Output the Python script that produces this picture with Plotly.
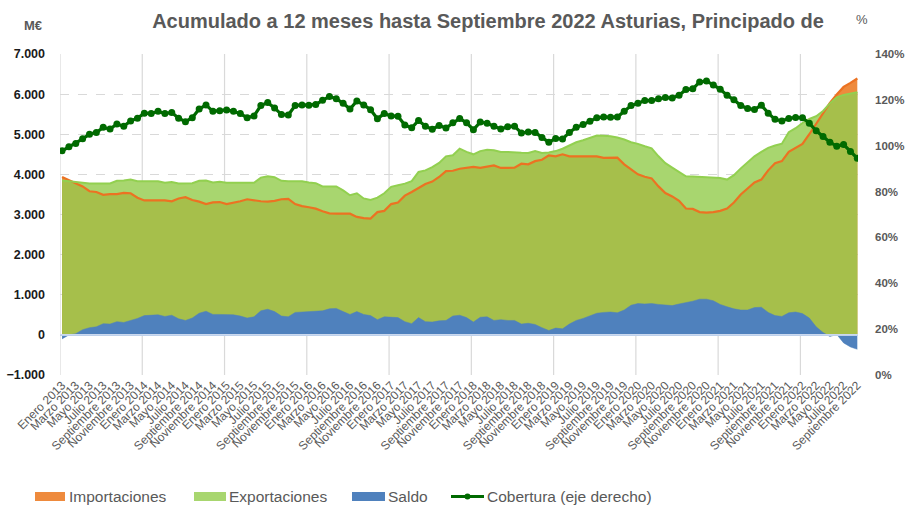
import plotly.graph_objects as go

years = list(range(2013, 2023))
month_names = ["Enero", "Febrero", "Marzo", "Abril", "Mayo", "Junio", "Julio",
               "Agosto", "Septiembre", "Octubre", "Noviembre", "Diciembre"]
months = [f"{m} {y}" for y in years for m in month_names][:117]

exportaciones = [
    3850, 3830, 3810, 3790, 3770, 3770, 3770, 3775, 3840, 3845, 3870, 3830,
    3830, 3835, 3830, 3790, 3810, 3775, 3775, 3780, 3840, 3845, 3800, 3815,
    3790, 3790, 3785, 3780, 3790, 3920, 3950, 3930, 3840, 3830, 3830, 3830,
    3800, 3780, 3700, 3700, 3700, 3600, 3480, 3530, 3400, 3360, 3420, 3530,
    3690, 3730, 3770, 3830, 4060, 4100, 4180, 4285, 4450, 4475, 4640, 4560,
    4500, 4580, 4615, 4600, 4560, 4560, 4545, 4540, 4535, 4580, 4535, 4545,
    4580, 4640, 4720, 4800, 4850, 4920, 4970, 4960, 4950, 4920, 4870, 4800,
    4760, 4700, 4650, 4450, 4280, 4170, 4060, 3950, 3945, 3940, 3935, 3925,
    3910, 3870, 3980, 4150, 4300, 4450, 4560, 4660, 4720, 4765, 5050, 5150,
    5280, 5380, 5450, 5580, 5770, 5920, 5980, 6010, 6050]

importaciones = [
    3935, 3850, 3780, 3700, 3580, 3560, 3490, 3510, 3510, 3540, 3530, 3420,
    3350, 3350, 3340, 3350, 3330, 3400, 3430, 3360, 3320, 3260, 3300, 3310,
    3260, 3290, 3330, 3380, 3350, 3330, 3320, 3340, 3380, 3390, 3260, 3210,
    3180, 3145, 3080, 3030, 3020, 3025, 3020, 2940, 2910, 2900, 3060, 3090,
    3260, 3300, 3470, 3560, 3650, 3760, 3820, 3935, 4080, 4090, 4140, 4160,
    4185, 4160, 4190, 4225, 4160, 4160, 4165, 4265, 4250, 4330, 4365, 4475,
    4450, 4500, 4450, 4450, 4450, 4450, 4450, 4410, 4420, 4415, 4250, 4120,
    4000, 3940, 3900, 3700, 3535, 3450, 3340, 3150, 3140, 3060, 3045, 3060,
    3090, 3150, 3300, 3500, 3650, 3800, 3870, 4100, 4280, 4330, 4560, 4660,
    4760, 5000, 5250, 5500, 5780, 5990, 6180, 6280, 6390]

saldo = [
    -100, 0, 30, 130, 180, 200, 280, 270, 330, 310, 360, 410,
    480, 490, 500, 460, 490, 400, 360, 420, 540, 590, 510, 510,
    500, 500, 470, 420, 450, 600, 640, 580, 470, 450, 560, 570,
    570, 580, 600, 650, 660, 580, 510, 580, 510, 480, 380, 450,
    440, 430, 330, 280, 430, 330, 320, 350, 360, 470, 490, 430,
    320, 440, 450, 360, 380, 360, 360, 270, 290, 260, 180, 110,
    170, 150, 270, 360, 410, 480, 540, 560, 570, 550, 620, 740,
    780, 770, 780, 760, 740, 730, 770, 800, 840, 890, 890, 850,
    760, 700, 650, 620, 620, 680, 690, 560, 480, 460, 550, 570,
    530, 420, 200, 60, -40, 10, -200, -300, -360]

cobertura = [
    97.8, 99.5, 101, 103, 105, 105.8, 108, 107.3, 109.5, 108.5, 110.8, 112,
    114.2, 114, 115, 114, 114.5, 112, 110.5, 112.2, 116, 117.8, 115, 115.2,
    115.6, 115, 114, 112.2, 113, 117.5, 118.8, 116.5, 113.6, 113.4, 117.5, 117.8,
    117.7, 118, 119.8, 121.5, 120.5, 118.5, 116, 119.5, 117.8, 115.7, 111.8, 114,
    113, 112.8, 109, 107.8, 111, 108.5, 107.2, 108.8, 107.7, 110, 111.9, 110,
    107, 110.3, 109.8, 108.5, 107.3, 108.3, 108.5, 105.5, 106, 105.8, 103.6, 101.5,
    103.2, 102.9, 105.8, 108, 109.2, 110.7, 112.2, 112.5, 112.4, 112.5, 115, 117.5,
    118.5, 119.7, 119.7, 120.5, 121, 120.8, 122, 124.5, 124.8, 127.8, 128.2, 126.5,
    124.6, 122, 120, 117.5, 116.2, 115.8, 117.7, 114.2, 111.5, 110.8, 111.9, 112.3,
    112.2, 109.8, 106.5, 104, 101.5, 99.8, 100.5, 97.5, 94.5]

x = list(range(len(months)))
overlap = [min(e, i) for e, i in zip(exportaciones, importaciones)]

C_ORANGE_FILL = "#EE8A3D"
C_ORANGE_LINE = "#EC7222"
C_LGREEN = "#A8D66F"
C_LGREEN_LINE = "#92D050"
C_OLIVE = "#A6BF4B"
C_BLUE = "#4F81BD"
C_COB = "#006A00"
GRAY = "#595959"
FONT = "Liberation Sans"

fig = go.Figure()
fig.add_trace(go.Scatter(x=x, y=exportaciones, mode="lines", fill="tozeroy",
                         fillcolor=C_LGREEN, line=dict(width=0, color=C_LGREEN),
                         showlegend=False, hoverinfo="skip"))
fig.add_trace(go.Scatter(x=x, y=importaciones, mode="lines", fill="tozeroy",
                         fillcolor=C_ORANGE_FILL, line=dict(width=0, color=C_ORANGE_FILL),
                         showlegend=False, hoverinfo="skip"))
fig.add_trace(go.Scatter(x=x, y=overlap, mode="lines", fill="tozeroy",
                         fillcolor=C_OLIVE, line=dict(width=0, color=C_OLIVE),
                         showlegend=False, hoverinfo="skip"))
fig.add_trace(go.Scatter(x=x, y=importaciones, mode="lines", name="Importaciones",
                         line=dict(width=2.2, color=C_ORANGE_LINE), showlegend=False))
fig.add_trace(go.Scatter(x=x, y=exportaciones, mode="lines", name="Exportaciones",
                         line=dict(width=2, color=C_LGREEN_LINE), showlegend=False))
fig.add_trace(go.Scatter(x=x, y=saldo, mode="lines", fill="tozeroy", name="Saldo",
                         fillcolor=C_BLUE, line=dict(width=0.5, color=C_BLUE),
                         showlegend=False))
fig.add_trace(go.Scatter(x=x, y=cobertura, mode="lines+markers", yaxis="y2",
                         name="Cobertura (eje derecho)",
                         line=dict(width=3.2, color=C_COB),
                         marker=dict(size=7, color=C_COB), showlegend=False))

# zero line above areas
fig.add_shape(type="line", xref="paper", x0=0, x1=1, yref="y", y0=0, y1=0,
              line=dict(color="#A9C0E4", width=2), layer="above")
fig.add_shape(type="line", xref="paper", x0=0, x1=1, yref="y", y0=0, y1=0,
              line=dict(color="#EEF3FA", width=0.8), layer="above")

# vertical yearly gridlines
for k in range(0, len(months), 12):
    fig.add_shape(type="line", xref="x", x0=k - 0.3, x1=k - 0.3, yref="paper",
                  y0=0, y1=1, line=dict(color="#D9D9D9", width=1.2), layer="below")

# manual legend
def px2paper_x(px):
    return (px - 60) / 798.0

def px2paper_y(py):
    return (375 - py) / 321.0

legend_items = [
    ("rect", 35, 65, C_ORANGE_FILL, "Importaciones", 67),
    ("rect", 194, 226, C_LGREEN, "Exportaciones", 227),
    ("rect", 352, 385, C_BLUE, "Saldo", 386),
    ("line", 451, 484, C_COB, "Cobertura (eje derecho)", 485),
]
for kind, a, b, col, label, tx in legend_items:
    if kind == "rect":
        fig.add_shape(type="rect", xref="paper", yref="paper",
                      x0=px2paper_x(a), x1=px2paper_x(b),
                      y0=px2paper_y(501), y1=px2paper_y(492),
                      fillcolor=col, line=dict(width=0))
    else:
        fig.add_shape(type="line", xref="paper", yref="paper",
                      x0=px2paper_x(a), x1=px2paper_x(b),
                      y0=px2paper_y(496.5), y1=px2paper_y(496.5),
                      line=dict(color=col, width=3))
        fig.add_shape(type="circle", xref="paper", yref="paper",
                      x0=px2paper_x(464.5), x1=px2paper_x(470.5),
                      y0=px2paper_y(499.5), y1=px2paper_y(493.5),
                      fillcolor=col, line=dict(width=0))
    fig.add_annotation(text=label, xref="paper", yref="paper",
                       x=px2paper_x(tx), y=px2paper_y(496.5), xanchor="left",
                       yanchor="middle", showarrow=False,
                       font=dict(family=FONT, size=15.5, color=GRAY))

fig.add_annotation(text="<b>M€</b>", xref="paper", yref="paper",
                   x=px2paper_x(33), y=px2paper_y(25), xanchor="center", yanchor="middle",
                   showarrow=False, font=dict(family=FONT, size=13, color=GRAY))
fig.add_annotation(text="%", xref="paper", yref="paper",
                   x=px2paper_x(862), y=px2paper_y(19), xanchor="center", yanchor="middle",
                   showarrow=False, font=dict(family=FONT, size=13, color=GRAY))

fig.update_layout(
    width=907, height=522,
    margin=dict(l=60, r=49, t=54, b=147, autoexpand=False),
    paper_bgcolor="white", plot_bgcolor="white",
    separators=",.",
    title=dict(text="<b>Acumulado a 12 meses hasta Septiembre 2022 Asturias, Principado de</b>",
               x=488/907, xanchor="center", y=1 - 21/522, yanchor="middle",
               font=dict(family=FONT, size=20, color=GRAY)),
    xaxis=dict(range=[-0.3, 116.1], tickmode="array", automargin=False,
               tickvals=x[::2], ticktext=months[::2], tickangle=-45,
               showgrid=False, zeroline=False, showline=False, ticks="",
               tickfont=dict(family=FONT, size=12, color=GRAY)),
    yaxis=dict(range=[-1000, 7000], dtick=1000, tickformat=",d", automargin=False,
               showgrid=True, gridcolor="#D9D9D9", griddash="dash", gridwidth=1,
               zeroline=False, showline=False, ticks="", ticklabelstandoff=14,
               tickfont=dict(family=FONT, size=12.5, color="#1a1a1a", weight="bold")),
    yaxis2=dict(range=[0, 140], dtick=20, ticksuffix="%", overlaying="y", side="right",
                showgrid=False, zeroline=False, showline=False, ticks="", automargin=False,
                ticklabelstandoff=16,
                tickfont=dict(family=FONT, size=11.5, color=GRAY, weight="bold")),
    showlegend=False,
)
fig.write_html("out.html", config={"displayModeBar": False},
               post_script="document.body.style.margin='0px';document.body.style.padding='0px';")
